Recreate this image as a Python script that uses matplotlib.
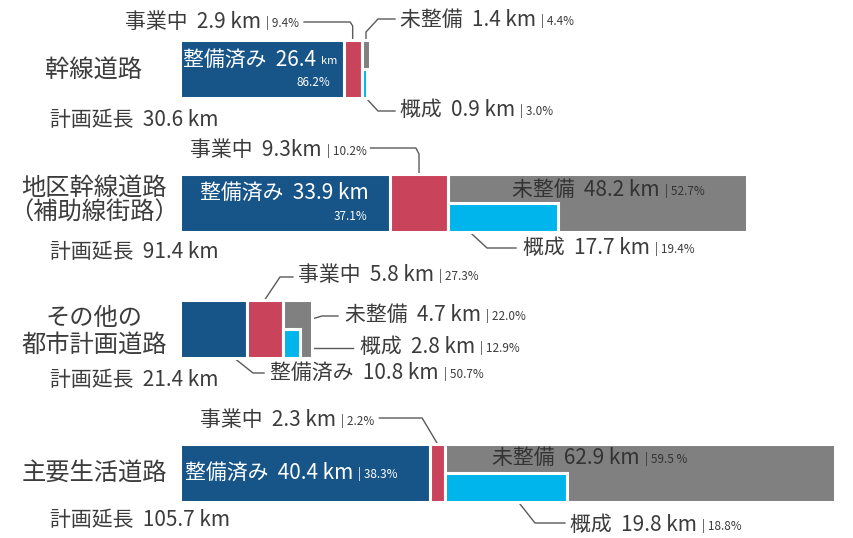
import matplotlib
matplotlib.use('Agg')
import matplotlib.pyplot as plt

plt.rcParams['font.family'] = ['Noto Sans CJK JP', 'DejaVu Sans']

# data (km and % of planned length)
road_lines = [['幹線道路'], ['地区幹線道路', '（補助線街路）'], ['その他の', '都市計画道路'], ['主要生活道路']]
plan_km = [30.6, 91.4, 21.4, 105.7]
done_km = [26.4, 33.9, 10.8, 40.4]
done_pct = [86.2, 37.1, 50.7, 38.3]
wip_km = [2.9, 9.3, 5.8, 2.3]
wip_pct = [9.4, 10.2, 27.3, 2.2]
todo_km = [1.4, 48.2, 4.7, 62.9]
todo_pct = [4.4, 52.7, 22.0, 59.5]
rough_km = [0.9, 17.7, 2.8, 19.8]
rough_pct = [3.0, 19.4, 12.9, 18.8]

# colours
BLUE = '#175487'
RED = '#c9435b'
GRAY = '#808080'
CYAN = '#00b5eb'
TXT = '#3c3c3c'
LINE = '#5a5a5a'

# layout (pixels)
W, H = 854, 538
X0 = 180          # pixel where 0 km sits
S = 6.2           # pixels per km
row_y = [68.5, 203, 328.5, 473]
bar_h = 58
FS = 15
PS = 8.5

fig = plt.figure(figsize=(W / 100, H / 100), dpi=100)
ax = fig.add_axes([0, 0, 1, 1])
ax.set_xlim(-X0 / S, (W - X0) / S)
ax.set_ylim(H, 0)
ax.axis('off')


def px(x):
    # pixel x -> km axis
    return (x - X0) / S


renderer = fig.canvas.get_renderer()


def label(x, y, main, pct=None, color=TXT, size=FS, psize=PS, gap=5):
    # returns right edge of the label in pixels
    t = ax.text(px(x), y, main, fontsize=size, color=color, ha='left', va='center')
    bb = t.get_window_extent(renderer)
    if pct:
        xr = ax.transData.inverted().transform((bb.x1 + gap, 0))[0]
        t2 = ax.text(xr, y + 1, pct, fontsize=psize, color=color, ha='left', va='center')
        bb = t2.get_window_extent(renderer)
    return bb.x1


def leader(pts):
    ax.plot([p[0] for p in pts], [p[1] for p in pts], color=LINE, lw=1.0,
            solid_joinstyle='round', zorder=1)


lefts_wip = [d for d in done_km]
lefts_todo = [d + w for d, w in zip(done_km, wip_km)]

ax.barh(row_y, done_km, height=bar_h, left=0, color=BLUE, edgecolor='white', linewidth=2.2, zorder=2)
ax.barh(row_y, wip_km, height=bar_h, left=lefts_wip, color=RED, edgecolor='white', linewidth=2.2, zorder=2)
ax.barh(row_y, todo_km, height=bar_h, left=lefts_todo, color=GRAY, edgecolor='white', linewidth=2.2, zorder=2)
ax.barh([y + bar_h / 4 for y in row_y], rough_km, height=bar_h / 2, left=lefts_todo,
        color=CYAN, edgecolor='white', linewidth=2.2, zorder=3)

# category names
name_y = [[70], [188, 213], [318, 345], [473]]
for lines, ys in zip(road_lines, name_y):
    for s, y in zip(lines, ys):
        ax.text(px(94), y, s, fontsize=17.5, color=TXT, ha='center', va='center')

# planned length
plan_y = [120, 252, 380, 520]
for v, y in zip(plan_km, plan_y):
    label(50, y, f'計画延長  {v} km')

top = [y - bar_h / 2 for y in row_y]
bot = [y + bar_h / 2 for y in row_y]

# --- 幹線道路
i = 0
label(183, 60, f'整備済み  {done_km[i]}', 'km', color='white', psize=8)
ax.text(px(330), 83, f'{done_pct[i]}%', fontsize=PS, color='white', ha='right', va='center')
e = label(125, 22, f'事業中  {wip_km[i]} km', f'| {wip_pct[i]}%')
label(400, 20, f'未整備  {todo_km[i]} km', f'| {todo_pct[i]}%')
label(400, 110, f'概成  {rough_km[i]} km', f'| {rough_pct[i]}%')
xc = done_km[i] + wip_km[i] / 2
leader([(px(e + 5), 22), (xc - 0.4, 22), (xc, 26), (xc, top[i])])
xg = lefts_todo[i] + todo_km[i] / 2
leader([(xg, top[i] + 2), (xg, 32), (px(378), 19), (px(395), 19)])
leader([(xg, bot[i] - 2), (xg, 98), (px(378), 111), (px(395), 111)])

# --- 地区幹線道路
i = 1
label(200, 193, f'整備済み  {done_km[i]} km', color='white')
ax.text(px(367), 217, f'{done_pct[i]}%', fontsize=PS, color='white', ha='right', va='center')
e = label(190, 150, f'事業中  {wip_km[i]}km', f'| {wip_pct[i]}%')
label(512, 190, f'未整備  {todo_km[i]} km', f'| {todo_pct[i]}%', color='#333333')
label(523, 248, f'概成  {rough_km[i]} km', f'| {rough_pct[i]}%')
xc = done_km[i] + wip_km[i] / 2
leader([(px(e + 4), 148), (xc - 0.5, 148), (xc, 154), (xc, top[i])])
xr = lefts_todo[i] + rough_km[i] * 0.2
leader([(xr, bot[i]), (px(487), 248), (px(516), 248)])

# --- その他の都市計画道路
i = 2
label(298, 275, f'事業中  {wip_km[i]} km', f'| {wip_pct[i]}%')
label(345, 315, f'未整備  {todo_km[i]} km', f'| {todo_pct[i]}%')
label(360, 347, f'概成  {rough_km[i]} km', f'| {rough_pct[i]}%')
label(270, 373, f'整備済み  {done_km[i]} km', f'| {done_pct[i]}%')
xc = done_km[i] + wip_km[i] / 2
leader([(xc, top[i]), (px(280), 277), (px(293), 277)])
xg = lefts_todo[i] + rough_km[i] + 0.3
leader([(xg, 322), (px(322), 316), (px(338), 316)])
xr = lefts_todo[i] + rough_km[i] * 0.7
leader([(xr, 348), (px(353), 348)])
xb = done_km[i] * 0.8
leader([(xb, bot[i]), (px(253), 373), (px(264), 373)])

# --- 主要生活道路
i = 3
label(185, 473, f'整備済み  {done_km[i]} km', f'| {done_pct[i]}%', color='white')
e = label(200, 420, f'事業中  {wip_km[i]} km', f'| {wip_pct[i]}%')
label(492, 458, f'未整備  {todo_km[i]} km', f'| {todo_pct[i]} %', color='#333333')
label(570, 525, f'概成  {rough_km[i]} km', f'| {rough_pct[i]}%')
xc = done_km[i] + wip_km[i] / 2
leader([(px(e + 5), 418), (xc - 2.5, 418), (xc, top[i])])
xr = lefts_todo[i] + rough_km[i] * 0.6
leader([(xr, bot[i]), (px(535), 523), (px(565), 523)])

fig.savefig('out.png', dpi=100, facecolor='white')
